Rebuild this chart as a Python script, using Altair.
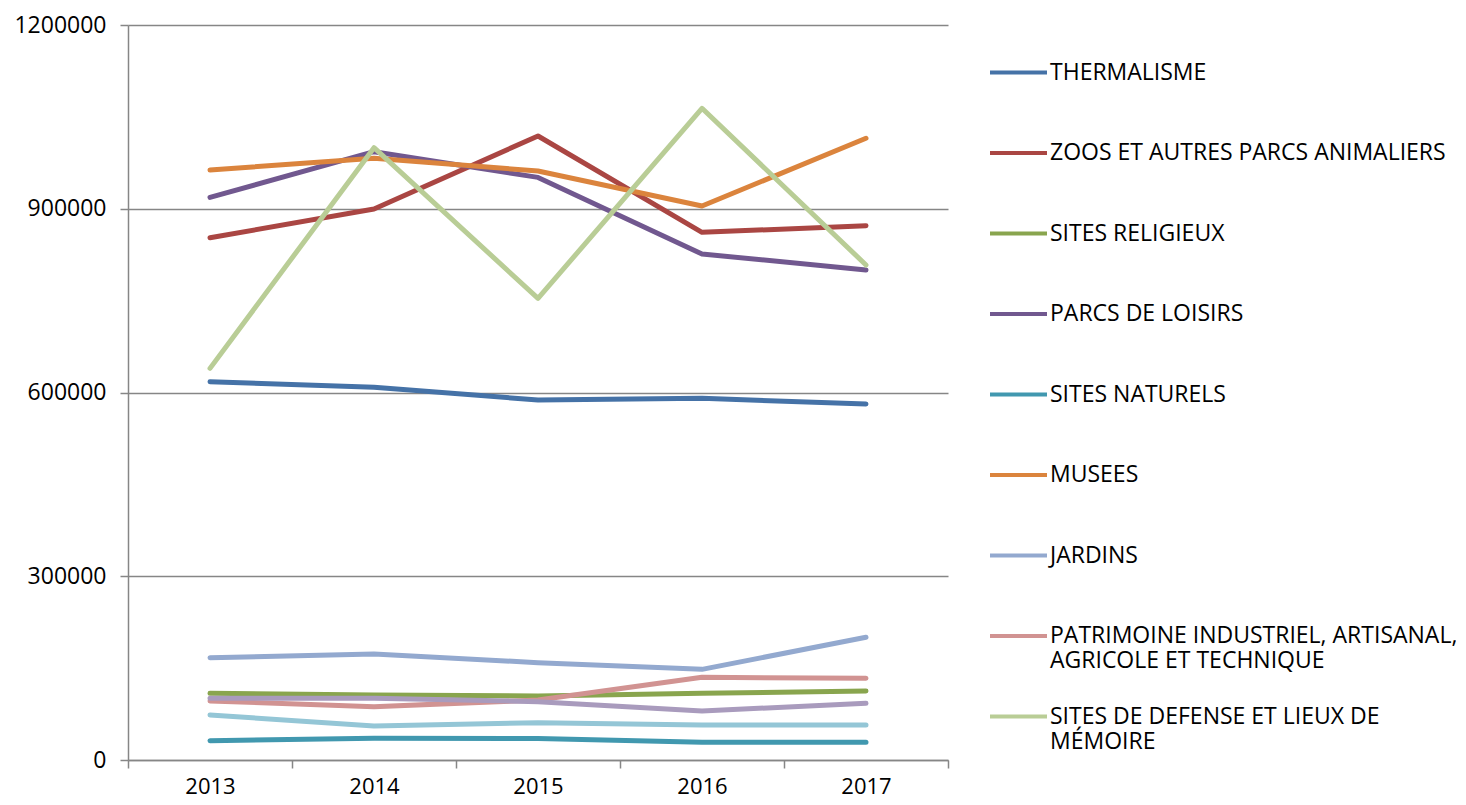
import altair as alt
import pandas as pd

years = ["2013", "2014", "2015", "2016", "2017"]

series_names = [
    "THERMALISME",
    "ZOOS ET AUTRES PARCS ANIMALIERS",
    "SITES RELIGIEUX",
    "PARCS DE LOISIRS",
    "SITES NATURELS",
    "MUSEES",
    "JARDINS",
    "PATRIMOINE INDUSTRIEL, ARTISANAL, AGRICOLE ET TECHNIQUE",
    "SITES DE DEFENSE ET LIEUX DE MÉMOIRE",
    "AUTRES SITES 1",
    "AUTRES SITES 2",
]

thermalisme = [617600, 608500, 587800, 590500, 581200]
zoos = [852700, 899600, 1018800, 861500, 872400]
religieux = [108800, 106000, 104500, 108800, 112700]
loisirs = [918600, 993200, 951200, 826100, 800000]
naturels = [31600, 35400, 35000, 28900, 28900]
musees = [963300, 982300, 961600, 904500, 1015000]
jardins = [167000, 173000, 158900, 148000, 200300]
patrimoine = [96300, 87000, 98000, 135000, 133300]
defense = [639400, 999700, 753700, 1064000, 808200]
autres1 = [100700, 100700, 95200, 80000, 92500]
autres2 = [73500, 55500, 61000, 57100, 57100]

colors = ["#4572A7", "#AA4643", "#89A54E", "#71588F", "#4198AF", "#DB843D",
          "#93A9CF", "#D19392", "#B9CD96", "#A99BBD", "#94C6D6"]

all_values = [thermalisme, zoos, religieux, loisirs, naturels, musees,
              jardins, patrimoine, defense, autres1, autres2]

rows = []
for i, (name, vals) in enumerate(zip(series_names, all_values)):
    for y, v in zip(years, vals):
        rows.append({"annee": y, "valeur": v, "serie": name, "ordre": i})
df = pd.DataFrame(rows)

legend_names = series_names[:9]

label_expr = ("datum.label == 'PATRIMOINE INDUSTRIEL, ARTISANAL, AGRICOLE ET TECHNIQUE' ? "
              "['PATRIMOINE INDUSTRIEL, ARTISANAL,', 'AGRICOLE ET TECHNIQUE'] : "
              "datum.label == 'SITES DE DEFENSE ET LIEUX DE MÉMOIRE' ? "
              "['SITES DE DEFENSE ET LIEUX DE', 'MÉMOIRE'] : [datum.label, '']")

chart = alt.Chart(df).mark_line(strokeWidth=5, strokeCap="round", strokeJoin="round").encode(
    x=alt.X("annee:O", title=None, bandPosition=0.5,
            scale=alt.Scale(type="band", paddingInner=0, paddingOuter=0),
            axis=alt.Axis(labelAngle=0, tickBand="extent", grid=False, tickSize=8,
                          labelPadding=8, labelFontSize=22, labelColor="#000000",
                          domainColor="#868686", tickColor="#868686",
                          domainWidth=1.5, tickWidth=1.5)),
    y=alt.Y("valeur:Q", title=None,
            scale=alt.Scale(domain=[0, 1200000], nice=False),
            axis=alt.Axis(values=[0, 300000, 600000, 900000, 1200000], format="d",
                          tickSize=8, labelPadding=14, labelFontSize=23, labelColor="#000000",
                          grid=True, gridColor="#868686", gridWidth=1.5,
                          domainColor="#868686", tickColor="#868686",
                          domainWidth=1.5, tickWidth=1.5)),
    color=alt.Color("serie:N", sort=series_names,
                    scale=alt.Scale(domain=series_names, range=colors),
                    legend=alt.Legend(values=legend_names, title=None, orient="none",
                                      legendX=860, legendY=17, symbolType="stroke",
                                      symbolSize=3249, symbolStrokeWidth=4,
                                      labelFontSize=23, labelColor="#000000", labelLimit=0,
                                      rowPadding=12.5, labelOffset=1, labelExpr=label_expr)),
    order=alt.Order("ordre:Q"),
).properties(
    width=820, height=735,
    autosize=alt.AutoSizeParams(type="none"),
    padding={"left": 120, "top": 17, "right": 508, "bottom": 37},
).configure(
    font="Open Sans",
).configure_view(
    stroke=None,
)

chart.save("out.html", embed_options={"renderer": "svg", "actions": False})
